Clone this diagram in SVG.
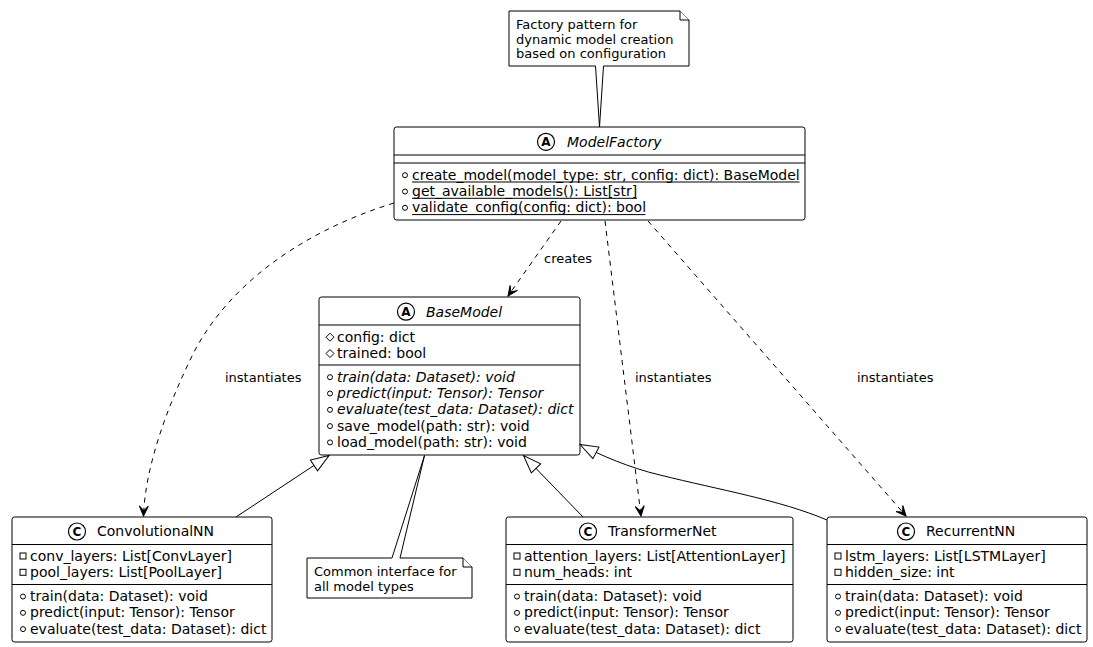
<svg xmlns="http://www.w3.org/2000/svg" width="1093" height="647" viewBox="0 0 1093 647">
<style>
.box{fill:#fff;stroke:#000;stroke-width:1}
.sep{stroke:#000;stroke-width:1}
.ul{stroke:#000;stroke-width:1}
text{font-family:"DejaVu Sans","Liberation Sans",sans-serif;fill:#000}
.m{font-size:14px}
.i{font-style:italic}
.n{font-size:13px}
.vis{fill:none;stroke:#000;stroke-width:1}
.ico{fill:#fff;stroke:#000;stroke-width:1.2}
.il{font-size:12px;font-weight:bold;text-anchor:middle}
.dash{fill:none;stroke:#000;stroke-width:1;stroke-dasharray:5,5}
.solid{fill:none;stroke:#000;stroke-width:1}
.note{fill:#fff;stroke:#000;stroke-width:1}
</style>
<defs>
<marker id="open" viewBox="-11 -6 12 12" refX="0" refY="0" markerWidth="12" markerHeight="12" markerUnits="userSpaceOnUse" orient="auto">
<path d="M0,0 L-10,-4.5 L-5,0 L-10,4.5 Z" fill="#000" stroke="#000" stroke-width="1" stroke-dasharray="none"/>
</marker>
<marker id="tri" viewBox="-20 -8 21 16" refX="0" refY="0" markerWidth="21" markerHeight="16" markerUnits="userSpaceOnUse" orient="auto">
<path d="M0,0 L-18,-6.5 L-18,6.5 Z" fill="#fff" stroke="#000" stroke-width="1"/>
</marker>
</defs>
<rect x="0" y="0" width="1093" height="647" fill="#fff"/>

<g id="note-factory">
<path class="note" d="M509,11 L680,11 L689,20 L689,66 L603.5,66 L599.5,127 L595.5,66 L509,66 Z"/>
<path class="note" d="M680,11 L680,20 L689,20"/>
<text class="n" x="516" y="29">Factory pattern for</text>
<text class="n" x="516" y="43.7">dynamic model creation</text>
<text class="n" x="516" y="58.4">based on configuration</text>
</g>

<g id="ModelFactory">
<rect class="box" x="394" y="127" width="411" height="93" rx="2.5"/>
<circle class="ico" cx="546" cy="141.8" r="8.5"/>
<text class="il" x="546" y="146.1">A</text>
<text class="m i" x="567" y="146.5">ModelFactory</text>
<line class="sep" x1="394" y1="155" x2="805" y2="155"/>
<line class="sep" x1="394" y1="163" x2="805" y2="163"/>
<circle class="vis" cx="405" cy="175.2" r="2.5"/>
<text class="m" x="412" y="179.7">create_model(model_type: str, config: dict): BaseModel</text>
<line class="ul" x1="412" y1="182" x2="799.5" y2="182"/>
<circle class="vis" cx="405" cy="191.5" r="2.5"/>
<text class="m" x="412" y="196">get_available_models(): List[str]</text>
<line class="ul" x1="412" y1="198.3" x2="637" y2="198.3"/>
<circle class="vis" cx="405" cy="207.8" r="2.5"/>
<text class="m" x="412" y="212.3">validate_config(config: dict): bool</text>
<line class="ul" x1="412" y1="214.6" x2="645.5" y2="214.6"/>
</g>

<g id="BaseModel">
<rect class="box" x="319" y="297" width="261" height="158" rx="2.5"/>
<circle class="ico" cx="406" cy="311.7" r="8.5"/>
<text class="il" x="406" y="316">A</text>
<text class="m i" x="426" y="316.5">BaseModel</text>
<line class="sep" x1="319" y1="325" x2="580" y2="325"/>
<path class="vis" d="M330,333.2 L334,337.2 L330,341.2 L326,337.2 Z"/>
<text class="m" x="337" y="341.7">config: dict</text>
<path class="vis" d="M330,349.5 L334,353.5 L330,357.5 L326,353.5 Z"/>
<text class="m" x="337" y="358">trained: bool</text>
<line class="sep" x1="319" y1="365" x2="580" y2="365"/>
<circle class="vis" cx="330" cy="377.2" r="2.5"/>
<text class="m i" x="337" y="381.7">train(data: Dataset): void</text>
<circle class="vis" cx="330" cy="393.5" r="2.5"/>
<text class="m i" x="337" y="398">predict(input: Tensor): Tensor</text>
<circle class="vis" cx="330" cy="409.8" r="2.5"/>
<text class="m i" x="337" y="414.3">evaluate(test_data: Dataset): dict</text>
<circle class="vis" cx="330" cy="426.1" r="2.5"/>
<text class="m" x="337" y="430.6">save_model(path: str): void</text>
<circle class="vis" cx="330" cy="442.4" r="2.5"/>
<text class="m" x="337" y="446.9">load_model(path: str): void</text>
</g>

<g id="ConvolutionalNN">
<rect class="box" x="12" y="517" width="260" height="125" rx="2.5"/>
<circle class="ico" cx="77" cy="531.5" r="8.5"/>
<text class="il" x="77" y="535.8">C</text>
<text class="m" x="97" y="536.2">ConvolutionalNN</text>
<line class="sep" x1="12" y1="544.5" x2="272" y2="544.5"/>
<rect class="vis" x="20" y="553" width="6" height="6"/>
<text class="m" x="30" y="561">conv_layers: List[ConvLayer]</text>
<rect class="vis" x="20" y="569.3" width="6" height="6"/>
<text class="m" x="30" y="577.3">pool_layers: List[PoolLayer]</text>
<line class="sep" x1="12" y1="584.5" x2="272" y2="584.5"/>
<circle class="vis" cx="23" cy="596.5" r="2.5"/>
<text class="m" x="30" y="601">train(data: Dataset): void</text>
<circle class="vis" cx="23" cy="612.8" r="2.5"/>
<text class="m" x="30" y="617.3">predict(input: Tensor): Tensor</text>
<circle class="vis" cx="23" cy="629.1" r="2.5"/>
<text class="m" x="30" y="633.6">evaluate(test_data: Dataset): dict</text>
</g>

<g id="TransformerNet">
<rect class="box" x="506" y="517" width="287" height="125" rx="2.5"/>
<circle class="ico" cx="588" cy="531.5" r="8.5"/>
<text class="il" x="588" y="535.8">C</text>
<text class="m" x="608" y="536.2">TransformerNet</text>
<line class="sep" x1="506" y1="544.5" x2="793" y2="544.5"/>
<rect class="vis" x="514" y="553" width="6" height="6"/>
<text class="m" x="524" y="561">attention_layers: List[AttentionLayer]</text>
<rect class="vis" x="514" y="569.3" width="6" height="6"/>
<text class="m" x="524" y="577.3">num_heads: int</text>
<line class="sep" x1="506" y1="584.5" x2="793" y2="584.5"/>
<circle class="vis" cx="517" cy="596.5" r="2.5"/>
<text class="m" x="524" y="601">train(data: Dataset): void</text>
<circle class="vis" cx="517" cy="612.8" r="2.5"/>
<text class="m" x="524" y="617.3">predict(input: Tensor): Tensor</text>
<circle class="vis" cx="517" cy="629.1" r="2.5"/>
<text class="m" x="524" y="633.6">evaluate(test_data: Dataset): dict</text>
</g>

<g id="RecurrentNN">
<rect class="box" x="827" y="517" width="260" height="125" rx="2.5"/>
<circle class="ico" cx="906" cy="531.5" r="8.5"/>
<text class="il" x="906" y="535.8">C</text>
<text class="m" x="926" y="536.2">RecurrentNN</text>
<line class="sep" x1="827" y1="544.5" x2="1087" y2="544.5"/>
<rect class="vis" x="835" y="553" width="6" height="6"/>
<text class="m" x="845" y="561">lstm_layers: List[LSTMLayer]</text>
<rect class="vis" x="835" y="569.3" width="6" height="6"/>
<text class="m" x="845" y="577.3">hidden_size: int</text>
<line class="sep" x1="827" y1="584.5" x2="1087" y2="584.5"/>
<circle class="vis" cx="838" cy="596.5" r="2.5"/>
<text class="m" x="845" y="601">train(data: Dataset): void</text>
<circle class="vis" cx="838" cy="612.8" r="2.5"/>
<text class="m" x="845" y="617.3">predict(input: Tensor): Tensor</text>
<circle class="vis" cx="838" cy="629.1" r="2.5"/>
<text class="m" x="845" y="633.6">evaluate(test_data: Dataset): dict</text>
</g>

<g id="note-interface">
<path class="note" d="M307,558 L392,558 L424.5,455.5 L400,558 L463,558 L472,567 L472,598 L307,598 Z"/>
<path class="note" d="M463,558 L463,567 L472,567"/>
<text class="n" x="314" y="576">Common interface for</text>
<text class="n" x="314" y="590.5">all model types</text>
</g>

<g id="connectors">
<path class="dash" d="M561,221 L508,296" marker-end="url(#open)"/>
<text class="n" x="544" y="262.5">creates</text>
<path class="dash" d="M394,203 C300,232 230,285 195,350 C165,410 145,470 143.5,516" marker-end="url(#open)"/>
<text class="n" x="225" y="381.5">instantiates</text>
<path class="dash" d="M605,221 L641,516" marker-end="url(#open)"/>
<text class="n" x="635" y="381.5">instantiates</text>
<path class="dash" d="M648,221 L906,516" marker-end="url(#open)"/>
<text class="n" x="857" y="381.5">instantiates</text>
<path class="solid" d="M236,517 L329,455.5" marker-end="url(#tri)"/>
<path class="solid" d="M583,517 L523.5,455.5" marker-end="url(#tri)"/>
<path class="solid" d="M827,520 C780,500 720,490 660,475 C630,468 600,455 580,444.5" marker-end="url(#tri)"/>
</g>
</svg>
